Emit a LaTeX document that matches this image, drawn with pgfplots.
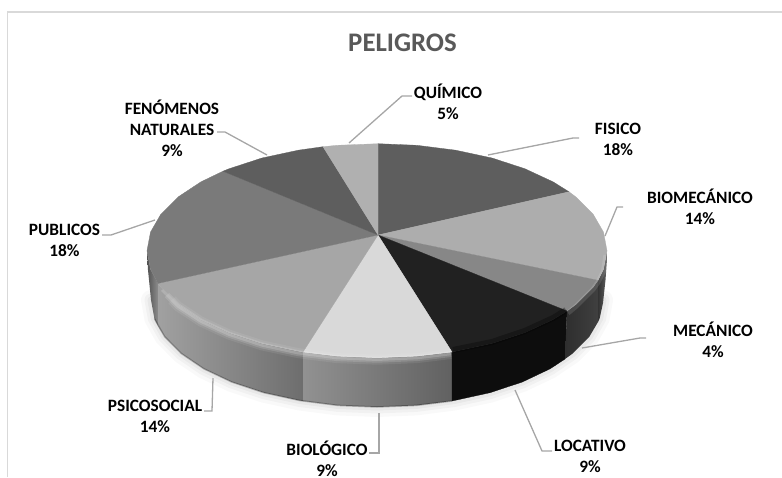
\documentclass[border=0pt]{standalone}
\usepackage{pgfplots}
\usepackage{fontspec}
\setmainfont{Carlito}
\pgfplotsset{compat=1.18}
\definecolor{leader}{HTML}{A6A6A6}
\newcommand{\lab}[3]{\node[align=center,font=\fontsize{17.3}{21}\selectfont\bfseries,text=black,inner sep=0pt] at (axis cs:#1,#2) {#3};}
\pgfplotsset{
  top/.style={draw=#1,fill=#1,line width=.3pt,mark=none},
  side/.style={draw=none,mark=none},
  lead/.style={draw=leader,line width=1.3pt,mark=none},
}
\begin{document}
\begin{tikzpicture}
\begin{axis}[
  scale only axis,width=782pt,height=477pt,
  xmin=0,xmax=782,ymin=0,ymax=477,y dir=reverse,
  hide axis,clip=true]
\path[use as bounding box] (axis cs:0,0) rectangle (axis cs:782,477);
% frame
\addplot[draw=black!15,line width=1.2pt,mark=none] coordinates {(7.5,477)(7.5,12)(782,12)};
% soft shadow under the pie
\addplot[draw=black,opacity=.022,line width=20pt,mark=none,line cap=round] coordinates {(151,300)(154.4,318.6)(164.6,336.6)(181.3,353.5)(203.9,368.8)(231.7,382)(264,392.7)(299.7,400.5)(337.8,405.4)(377,407)(416.2,405.4)(454.3,400.5)(490,392.7)(522.3,382)(550.1,368.8)(572.7,353.5)(589.4,336.6)(599.6,318.6)(603,300)};
\addplot[draw=black,opacity=.03,line width=13pt,mark=none,line cap=round] coordinates {(151,300)(154.4,318.6)(164.6,336.6)(181.3,353.5)(203.9,368.8)(231.7,382)(264,392.7)(299.7,400.5)(337.8,405.4)(377,407)(416.2,405.4)(454.3,400.5)(490,392.7)(522.3,382)(550.1,368.8)(572.7,353.5)(589.4,336.6)(599.6,318.6)(603,300)};
\addplot[draw=black,opacity=.04,line width=7pt,mark=none,line cap=round] coordinates {(151,300)(154.4,318.6)(164.6,336.6)(181.3,353.5)(203.9,368.8)(231.7,382)(264,392.7)(299.7,400.5)(337.8,405.4)(377,407)(416.2,405.4)(454.3,400.5)(490,392.7)(522.3,382)(550.1,368.8)(572.7,353.5)(589.4,336.6)(599.6,318.6)(603,300)};
% side faces
\addplot[side,left color=black!68,right color=black!45] coordinates {(158,283.4)(150.5,269.3)(147,250.7)(148,270)(151,300)(154.4,318.6)(158,326)} --cycle;
\addplot[side,left color=black!37,right color=black!57] coordinates {(303,352)(298.3,351.2)(262,343.4)(229.2,332.7)(200.8,319.5)(177.8,304.2)(160.9,287.3)(158,283.4)(158,326)(164.6,336.6)(181.3,353.5)(203.9,368.8)(231.7,382)(264,392.7)(299.7,400.5)(303,401)} --cycle;
\addplot[side,left color=black!43,right color=black!62] coordinates {(452,352)(416.9,356.1)(377,357.7)(337.1,356.1)(303,352)(303,401)(337.8,405.4)(377,407)(416.2,405.4)(452,401)} --cycle;
\addplot[draw=black!95,fill=black!95,line width=.3pt,mark=none] coordinates {(567,311)(553.2,319.5)(524.8,332.7)(492,343.4)(452,352)(452,401)(454.3,400.5)(490,392.7)(522.3,382)(550.1,368.8)(565,359)} --cycle;
\addplot[side,left color=black!82,right color=black!75] coordinates {(598,280.3)(593.1,287.3)(576.2,304.2)(567,311)(565,359)(572.7,353.5)(589.4,336.6)(598,322)} --cycle;
\addplot[side,left color=black!80,right color=black!62] coordinates {(607,250.7)(603.5,269.3)(598,280.3)(598,322)(599.6,318.6)(603,303)(605.5,280)(606.8,262)} --cycle;
% base line of the side
\addplot[draw=black,opacity=.25,line width=1.5pt,mark=none] coordinates {(154.4,318.6)(164.6,336.6)(181.3,353.5)(203.9,368.8)(231.7,382)(264,392.7)(299.7,400.5)(337.8,405.4)(377,407)(416.2,405.4)(452,401)};
% top faces
\addplot[top=black!63] coordinates {(378,235)(378,143.7)(416.9,145.3)(455.7,150.2)(492,158)(524.8,168.7)(553.2,181.9)(569,191.8)} --cycle;
\addplot[top=black!32] coordinates {(378,235)(569,191.8)(576.2,197.2)(593.1,214.1)(603.5,232.1)(607,250.7)(603.5,269.3)(598,280.3)} --cycle;
\addplot[top=black!47] coordinates {(378,235)(598,280.3)(593.1,287.3)(576.2,304.2)(567,311)} --cycle;
\addplot[top=black!87] coordinates {(378,235)(567,311)(553.2,319.5)(524.8,332.7)(492,343.4)(452,352)} --cycle;
\addplot[top=black!15] coordinates {(378,235)(452,352)(416.9,356.1)(377,357.7)(337.1,356.1)(303,352)} --cycle;
\addplot[top=black!35] coordinates {(378,235)(303,352)(298.3,351.2)(262,343.4)(229.2,332.7)(200.8,319.5)(177.8,304.2)(160.9,287.3)(158,283.4)} --cycle;
\addplot[top=black!52] coordinates {(378,235)(158,283.4)(150.5,269.3)(147,250.7)(150.5,232.1)(160.9,214.1)(177.8,197.2)(200.8,181.9)(223,171.2)} --cycle;
\addplot[top=black!63] coordinates {(378,235)(223,171.2)(229.2,168.7)(262,158)(298.3,150.2)(323,146.7)} --cycle;
\addplot[top=black!31] coordinates {(378,235)(323,146.7)(337.1,145.3)(378,143.7)} --cycle;
% bevel highlight along the front edge
\addplot[draw=white,opacity=.08,line width=10pt,mark=none] coordinates {(172,300)(177.8,306.2)(200.8,321.5)(229.2,334.7)(262,345.4)(298.3,353.2)(337.1,358.1)(377,359.7)(416.9,358.1)(451,354)};
\addplot[draw=white,opacity=.14,line width=6pt,mark=none] coordinates {(167,295)(177.8,306.2)(200.8,321.5)(229.2,334.7)(262,345.4)(298.3,353.2)(337.1,358.1)(377,359.7)(416.9,358.1)(451,354)};
\addplot[draw=white,opacity=.18,line width=2.5pt,mark=none] coordinates {(162,290)(177.8,306.2)(200.8,321.5)(229.2,334.7)(262,345.4)(298.3,353.2)(337.1,358.1)(377,359.7)(416.9,358.1)(451,354)};
\addplot[draw=white,opacity=.12,line width=5pt,mark=none] coordinates {(568,313)(576.2,306.2)(593.1,289.3)(598,282.3)(603.5,271.3)(606,255)};
\addplot[draw=black,opacity=.3,line width=6pt,mark=none] coordinates {(453,350)(492,342)(524.8,331)(553.2,318)(566,310)};
% leader lines
\addplot[lead] coordinates {(349,143)(402,96)(412,96)};
\addplot[lead] coordinates {(488,155)(573,138)(579,138)};
\addplot[lead] coordinates {(605,236)(617,207)(623,207)};
\addplot[lead] coordinates {(582,348)(640,338)(646,338)};
\addplot[lead] coordinates {(515,390)(542,451)(552,451)};
\addplot[lead] coordinates {(379,413)(379,453)(369,453)};
\addplot[lead] coordinates {(213,378)(212,411)(204,411)};
\addplot[lead] coordinates {(155,220)(111,235)(102,235)};
\addplot[lead] coordinates {(267,155)(225,132)(217,132)};
% texts
\node[font=\fontsize{26.8}{32}\selectfont\bfseries,text=black!65,inner sep=0pt] at (axis cs:402.5,43) {PELIGROS};
\lab{448}{102}{QUÍMICO\\5\%}
\lab{618}{139}{FISICO\\18\%}
\lab{172}{128}{FENÓMENOS\\NATURALES\\9\%}
\lab{700}{206.5}{BIOMECÁNICO\\14\%}
\lab{64.5}{240.5}{PUBLICOS\\18\%}
\lab{713}{340}{MECÁNICO\\4\%}
\lab{590}{456}{LOCATIVO\\9\%}
\lab{327}{458.5}{BIOLÓGICO\\9\%}
\lab{155}{416}{PSICOSOCIAL\\14\%}
\end{axis}
\end{tikzpicture}
\end{document}
